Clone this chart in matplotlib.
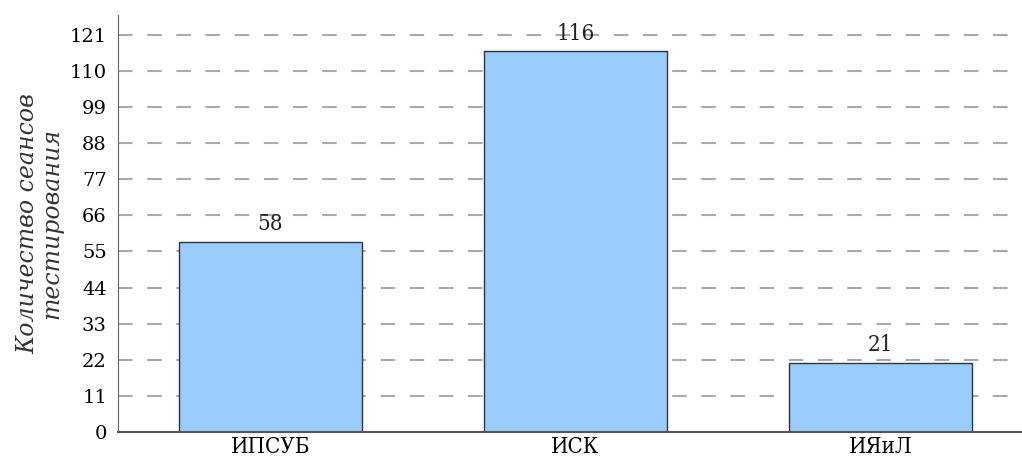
import matplotlib
matplotlib.use('Agg')
import matplotlib.pyplot as plt
import numpy as np

institutes = ['ИПСУБ', 'ИСК', 'ИЯиЛ']
sessions = [58, 116, 21]
yticks = [0, 11, 22, 33, 44, 55, 66, 77, 88, 99, 110, 121]

plt.rcParams['font.family'] = 'DejaVu Serif'

fig = plt.figure(figsize=(10.22, 4.58), dpi=100)
ax = fig.add_axes([0.1155, 0.0568, 0.895, 0.9105])

x = np.arange(len(institutes))
bars = ax.bar(x, sessions, width=0.6, color='#99ccff', edgecolor='#333333', linewidth=1, zorder=3)
for b, v in zip(bars, sessions):
    ax.text(b.get_x() + b.get_width() / 2, v + 2.0, str(v), ha='center', va='bottom',
            fontsize=16, fontstretch='condensed', color='#222222', zorder=4)

ax.set_xlim(-0.5, 2.5)
ax.set_ylim(0, 127)
ax.set_xticks(x)
ax.set_xticklabels(institutes, fontsize=16, fontstretch='condensed')
ax.set_yticks(yticks)
ax.tick_params(axis='y', labelsize=14, length=0, pad=8)
ax.tick_params(axis='x', length=0, pad=3)

ax.yaxis.grid(True, linestyle=(0, (7, 7)), color='#aaaaaa', linewidth=1.5, zorder=0)
ax.set_axisbelow(True)

ax.spines['top'].set_visible(False)
ax.spines['right'].set_visible(False)
ax.spines['left'].set_color('#666666')
ax.spines['bottom'].set_color('#555555')
ax.spines['bottom'].set_linewidth(1.5)
ax.spines['bottom'].set_zorder(5)

ax.set_ylabel('Количество сеансов\nтестирования', fontsize=17, style='italic',
              color='#333333', labelpad=5, linespacing=1.05)

fig.savefig('out.png', dpi=100)
